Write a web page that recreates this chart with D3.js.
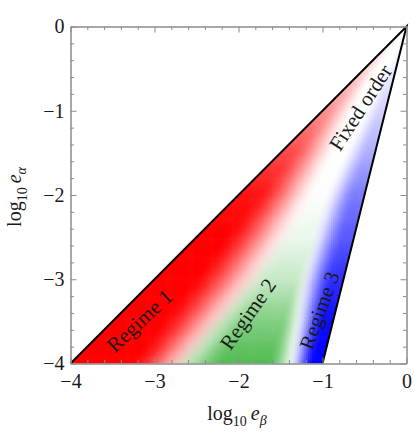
<!DOCTYPE html>
<html>
<head>
<meta charset="utf-8">
<script src="https://cdn.jsdelivr.net/npm/d3@7"></script>
<style>
  body { margin: 0; background: #fff; }
  text { font-family: "Liberation Serif", "DejaVu Serif", serif; fill: #1a1a1a; }
</style>
</head>
<body>
<div id="chart"></div>
<script>
// triangle of allowed (log10 e_beta, log10 e_alpha)
const region = [[-4, -4], [0, 0], [-1, -4]]

// shading, per row of log10 e_alpha
// u = 0 at the left (diagonal) edge, u = 1 at the right edge
const yLevels        = [-4, -3.5, -3, -2.5, -2, -1.5, -1, -0.5, 0]
const redAmp         = [1, 1, 1, 1, 0.93, 0.72, 0.44, 0.16, 0]
const redFull        = [0.22, 0.2, 0.18, 0.15, 0.12, 0.08, 0.03, 0, 0]
const redEnd         = [0.5, 0.55, 0.6, 0.62, 0.62, 0.6, 0.52, 0.46, 0.4]
const greenAmp       = [0.9, 0.65, 0.3, 0.1, 0.02, 0, 0, 0, 0]
const greenStart     = [0.36, 0.4, 0.44, 0.48, 0.52, 0.6, 0.6, 0.6, 0.6]
const greenFullStart = [0.62, 0.62, 0.62, 0.62, 0.64, 0.65, 0.65, 0.65, 0.65]
const greenFullEnd   = [0.78, 0.76, 0.74, 0.72, 0.7, 0.7, 0.7, 0.7, 0.7]
const greenEnd       = [0.9, 0.87, 0.83, 0.8, 0.77, 0.75, 0.75, 0.75, 0.75]
const blueAmp        = [1, 0.95, 0.82, 0.65, 0.52, 0.32, 0.18, 0.07, 0]
const blueStart      = [0.86, 0.82, 0.76, 0.72, 0.68, 0.66, 0.66, 0.66, 0.66]
const blueFull       = [0.97, 0.96, 0.95, 0.94, 0.93, 0.93, 0.93, 0.93, 0.93]
const regimeColors   = ["#ff0000", "#3cb43c", "#0000ff"]

const majorTicks = [-4, -3, -2, -1, 0]
const minorTicks = [-3.8, -3.6, -3.4, -3.2, -2.8, -2.6, -2.4, -2.2, -1.8, -1.6, -1.4, -1.2, -0.8, -0.6, -0.4, -0.2]

const labels = [
    {text: "Regime 1", x: -3.18, y: -3.49, angle: -43},
    {text: "Regime 2", x: -1.89, y: -3.41, angle: -55},
    {text: "Regime 3", x: -1.04, y: -3.37, angle: -70},
    {text: "Fixed order", x: -0.55, y: -0.96, angle: -57}
]

const width = 415, height = 433
const x = d3.scaleLinear().domain([-4, 0]).range([70.5, 406.5])
const y = d3.scaleLinear().domain([-4, 0]).range([363.5, 26.5])

const svg = d3.select("#chart").append("svg")
    .attr("width", width)
    .attr("height", height)

// per-row profiles
const row = arr => d3.scaleLinear().domain(yLevels).range(arr).clamp(true)
const rA = row(redAmp), rF = row(redFull), rE = row(redEnd)
const gA = row(greenAmp), gS = row(greenStart), gFS = row(greenFullStart), gFE = row(greenFullEnd), gE = row(greenEnd)
const bA = row(blueAmp), bS = row(blueStart), bF = row(blueFull)

const ramp = (u, a, b) => d3.easeSinInOut(Math.max(0, Math.min(1, (u - a) / (b - a))))

const leftSlope = region[0][0] / region[0][1]
const rightSlope = region[2][0] / region[2][1]
const rgbs = regimeColors.map(c => d3.rgb(c))

const shade = (px, py) => {
    const u = (px - py * leftSlope) / (py * rightSlope - py * leftSlope)
    const w = [
        rA(py) * (1 - ramp(u, rF(py), rE(py))),
        gA(py) * ramp(u, gS(py), gFS(py)) * (1 - ramp(u, gFE(py), gE(py))),
        bA(py) * ramp(u, bS(py), bF(py))
    ]
    let s = d3.sum(w)
    if (s > 1) { w.forEach((v, i) => w[i] = v / s); s = 1 }
    const mix = k => 255 * (1 - s) + d3.sum(rgbs, (c, i) => c[k] * w[i])
    return d3.rgb(mix("r"), mix("g"), mix("b")).formatHex()
}

// cells
const step = 0.025
const cells = []
d3.range(-4 + step / 2, 0, step).forEach(cy => {
    const lo = cy * leftSlope, hi = cy * rightSlope
    d3.range(-4 + step / 2, 0, step).forEach(cx => {
        if (cx > lo - step && cx < hi + step) cells.push({cx, cy})
    })
})

svg.append("clipPath").attr("id", "tri")
    .append("path")
    .attr("d", d3.line().x(d => x(d[0])).y(d => y(d[1]))(region) + "Z")

const cw = x(step) - x(0)
svg.append("g").attr("clip-path", "url(#tri)")
    .selectAll("rect")
    .data(cells)
    .join("rect")
    .attr("x", d => x(d.cx - step / 2))
    .attr("y", d => y(d.cy + step / 2))
    .attr("width", cw + 0.6)
    .attr("height", cw + 0.6)
    .attr("fill", d => shade(d.cx, d.cy))

// triangle edges
svg.append("path")
    .attr("d", d3.line().x(d => x(d[0])).y(d => y(d[1]))(region))
    .attr("fill", "none")
    .attr("stroke", "#000")
    .attr("stroke-width", 2)

// frame + ticks
const frameColor = "#8c8c8c"
const styleAxis = g => {
    g.attr("font-family", null)
    g.select(".domain").attr("stroke", frameColor)
    g.selectAll(".tick line").attr("stroke", frameColor)
    g.selectAll(".tick text").style("font-size", "20px").attr("fill", "#1a1a1a")
}
const fmt = d3.format("d")

svg.append("g").attr("transform", `translate(0,${y(-4)})`)
    .call(d3.axisBottom(x).tickValues(majorTicks).tickFormat(fmt).tickSize(-6).tickSizeOuter(0).tickPadding(10))
    .call(styleAxis)
svg.append("g").attr("transform", `translate(${x(-4)},0)`)
    .call(d3.axisLeft(y).tickValues(majorTicks).tickFormat(fmt).tickSize(-6).tickSizeOuter(0).tickPadding(6))
    .call(styleAxis)
svg.append("g").attr("transform", `translate(0,${y(0)})`)
    .call(d3.axisTop(x).tickValues(majorTicks).tickFormat("").tickSize(-6).tickSizeOuter(0))
    .call(styleAxis)
svg.append("g").attr("transform", `translate(${x(0)},0)`)
    .call(d3.axisRight(y).tickValues(majorTicks).tickFormat("").tickSize(-6).tickSizeOuter(0))
    .call(styleAxis)

const minor = [
    [d3.axisBottom(x), `translate(0,${y(-4)})`],
    [d3.axisLeft(y), `translate(${x(-4)},0)`],
    [d3.axisTop(x), `translate(0,${y(0)})`],
    [d3.axisRight(y), `translate(${x(0)},0)`]
]
minor.forEach(([ax, tr]) => {
    svg.append("g").attr("transform", tr)
        .call(ax.tickValues(minorTicks).tickFormat("").tickSize(-3.5).tickSizeOuter(0))
        .call(styleAxis)
})

// region labels
svg.append("g").selectAll("text")
    .data(labels)
    .join("text")
    .attr("transform", d => `translate(${x(d.x)},${y(d.y)}) rotate(${d.angle})`)
    .attr("text-anchor", "middle")
    .attr("dy", "0.35em")
    .style("font-size", "21px")
    .text(d => d.text)

// axis titles
const axisTitle = (g, sym) => {
    g.append("tspan").text("log")
    g.append("tspan").attr("dy", 6).style("font-size", "14px").text("10")
    g.append("tspan").attr("dy", -6).text("\u2009")
    g.append("tspan").style("font-style", "italic").text("e")
    g.append("tspan").attr("dy", 5).style("font-style", "italic").style("font-size", "14px").text(sym)
}
svg.append("text")
    .attr("x", 237).attr("y", 420)
    .attr("text-anchor", "middle")
    .style("font-size", "20px")
    .call(axisTitle, "β")
svg.append("text")
    .attr("transform", "translate(21,197) rotate(-90)")
    .attr("text-anchor", "middle")
    .style("font-size", "20px")
    .call(axisTitle, "α")
</script>
</body>
</html>
